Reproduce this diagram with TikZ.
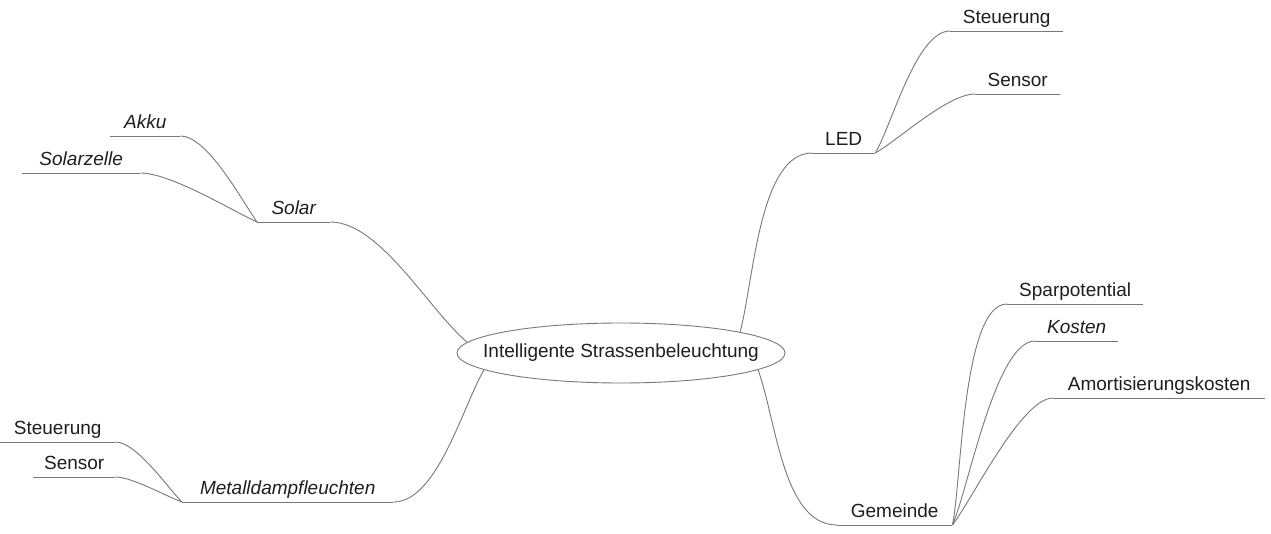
\documentclass[tikz,border=0pt]{standalone}
\usepackage{fontspec}
\setmainfont{Liberation Sans}
\usetikzlibrary{shapes.geometric}
\definecolor{linegray}{RGB}{120,120,120}
\definecolor{txtgray}{RGB}{30,30,30}
\tikzset{
  topic/.style={anchor=south west, inner xsep=0pt, inner ysep=7pt, text height=14pt, text depth=0pt,
    font=\fontsize{19}{22}\selectfont, text=txtgray},
  itopic/.style={topic, font=\fontsize{19}{22}\selectfont\itshape},
  branch/.style={draw=linegray, line width=0.9pt},
}
\begin{document}
\begin{tikzpicture}[x=1pt,y=1pt]
\useasboundingbox (0,0) rectangle (1271,533);
% centre
\node[ellipse, draw=linegray, line width=0.9pt, inner xsep=-22pt, inner ysep=11pt, minimum width=328pt, minimum height=60pt,
  font=\fontsize{19}{22}\selectfont, text=txtgray] (center) at (621,180) {Intelligente Strassenbeleuchtung};
% left side
\node[itopic, minimum width=73pt] (solar) at (257,311) {Solar};
\node[itopic, minimum width=70pt] (akku) at (110,397) {Akku};
\node[itopic, minimum width=118pt] (solarzelle) at (22,360) {Solarzelle};
\node[itopic, minimum width=211pt] (metall) at (182,31) {Metalldampfleuchten};
\node[topic, minimum width=115pt] (steuerL) at (0,91) {Steuerung};
\node[topic, minimum width=82pt] (sensorL) at (33,56) {Sensor};
% right side
\node[topic, minimum width=63pt] (led) at (812,380) {LED};
\node[topic, minimum width=113pt] (steuerR) at (950,502) {Steuerung};
\node[topic, minimum width=85pt] (sensorR) at (975,439) {Sensor};
\node[topic, minimum width=115pt] (gemeinde) at (837,8) {Gemeinde};
\node[topic, minimum width=136pt] (spar) at (1007,229) {Sparpotential};
\node[itopic, minimum width=83pt] (kosten) at (1035,192) {Kosten};
\node[topic, minimum width=212pt] (amort) at (1053,135) {Amortisierungskosten};
% underlines
\foreach \n in {solar,akku,solarzelle,metall,steuerL,sensorL,led,steuerR,sensorR,gemeinde,spar,kosten,amort}
  \draw[branch] (\n.south west) -- (\n.south east);
% branches
\draw[branch] (solar.south east) to[out=0, in=140, looseness=0.7] (center.176);
\draw[branch] (akku.south east) to[out=0, in=125, looseness=0.6] (solar.south west);
\draw[branch] (solarzelle.south east) to[out=0, in=155, looseness=0.6] (solar.south west);
\draw[branch] (center.187) to[out=-120, in=0, looseness=0.7] (metall.south east);
\draw[branch] (steuerL.south east) to[out=0, in=135, looseness=0.6] (metall.south west);
\draw[branch] (sensorL.south east) to[out=0, in=160, looseness=0.6] (metall.south west);
\draw[branch] (center.10) to[out=75, in=180, looseness=0.7] (led.south west);
\draw[branch] (led.south east) to[out=60, in=180, looseness=0.6] (steuerR.south west);
\draw[branch] (led.south east) to[out=30, in=180, looseness=0.6] (sensorR.south west);
\draw[branch] (center.353) to[out=-70, in=180, looseness=0.8] (gemeinde.south west);
\draw[branch] (gemeinde.south east) to[out=78, in=180, looseness=0.5] (spar.south west);
\draw[branch] (gemeinde.south east) to[out=66, in=180, looseness=0.5] (kosten.south west);
\draw[branch] (gemeinde.south east) to[out=52, in=180, looseness=0.5] (amort.south west);
\end{tikzpicture}
\end{document}
